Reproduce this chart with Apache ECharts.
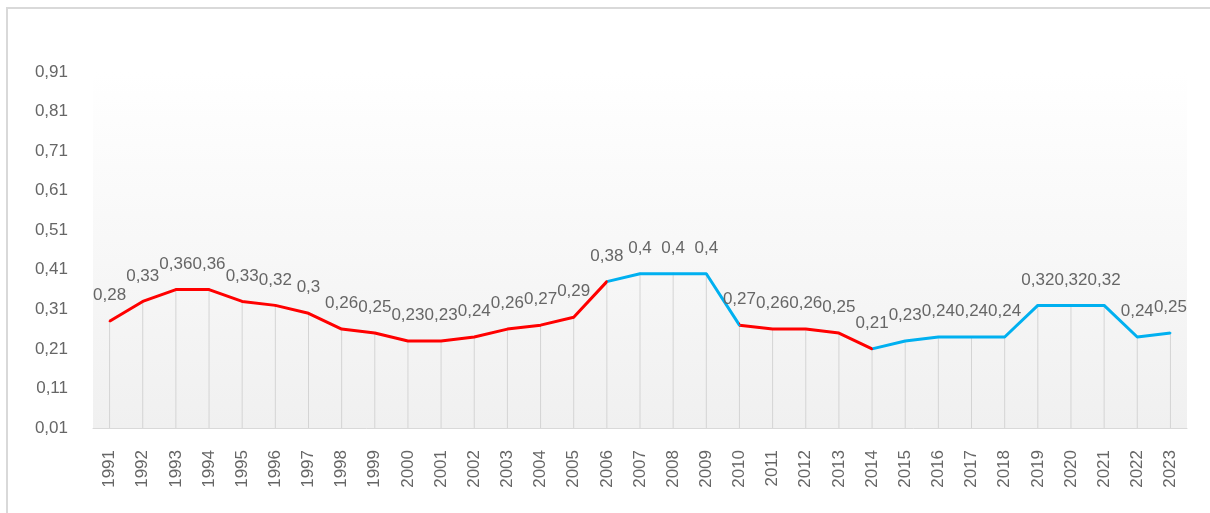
<!DOCTYPE html>
<html>
<head>
<meta charset="utf-8">
<script src="https://cdn.jsdelivr.net/npm/echarts@6/dist/echarts.min.js"></script>
<style>
  html, body { margin: 0; padding: 0; background: #fff; }
  #wrap { position: relative; width: 1210px; height: 513px; }
  #chart { width: 1210px; height: 513px; }
  #frame { position: absolute; left: 6px; top: 7px; right: 0; bottom: 0;
           border-left: 2px solid #d9d9d9; border-top: 2px solid #d9d9d9; pointer-events: none; }
</style>
</head>
<body>
<div id="wrap">
  <div id="chart"></div>
  <div id="frame"></div>
</div>
<script>
const years = ["1991","1992","1993","1994","1995","1996","1997","1998","1999","2000","2001",
  "2002","2003","2004","2005","2006","2007","2008","2009","2010","2011","2012","2013",
  "2014","2015","2016","2017","2018","2019","2020","2021","2022","2023"];
const values = [0.28,0.33,0.36,0.36,0.33,0.32,0.3,0.26,0.25,0.23,0.23,0.24,0.26,0.27,0.29,
  0.38,0.4,0.4,0.4,0.27,0.26,0.26,0.25,0.21,0.23,0.24,0.24,0.24,0.32,0.32,0.32,0.24,0.25];
// segments by index: red up to 2006, blue 2006-2010, red 2010-2014, blue after
const segments = [
  { lte: 15, color: "#ff0000" },
  { gt: 15, lte: 19, color: "#00b0f0" },
  { gt: 19, lte: 23, color: "#ff0000" },
  { gt: 23, color: "#00b0f0" }
];

const fmt = v => String(+v.toFixed(2)).replace(".", ",");
const font = "Liberation Sans";

const chart = echarts.init(document.getElementById("chart"));
chart.setOption({
  animation: false,
  grid: {
    left: 93, right: 23, top: 72, bottom: 85,
    show: true, borderWidth: 0,
    backgroundColor: new echarts.graphic.LinearGradient(0, 0, 0, 1, [
      { offset: 0, color: "#ffffff" },
      { offset: 1, color: "#f0f0f0" }
    ])
  },
  xAxis: {
    type: "category",
    data: years,
    axisLine: { lineStyle: { color: "#d9d9d9", width: 1 } },
    axisTick: { show: false },
    axisLabel: { rotate: 90, margin: 22, color: "#666", fontSize: 17, fontFamily: font }
  },
  yAxis: {
    type: "value",
    min: 0.01, max: 0.91, interval: 0.1,
    axisLine: { show: false },
    axisTick: { show: false },
    splitLine: { show: false },
    axisLabel: { margin: 25, color: "#666", fontSize: 17, fontFamily: font, formatter: fmt }
  },
  visualMap: {
    show: false,
    seriesIndex: 1,
    dimension: 0,
    pieces: segments
  },
  series: [
    {
      type: "bar",
      data: values,
      barWidth: 1,
      silent: true,
      itemStyle: { color: "#d4d4d4" },
      z: 1
    },
    {
      type: "line",
      data: values,
      symbol: "circle",
      symbolSize: 2,
      lineStyle: { width: 3 },
      z: 3,
      label: {
        show: true,
        position: "top",
        distance: 16,
        color: "#666",
        fontSize: 17,
        fontFamily: font,
        formatter: p => fmt(p.value)
      }
    }
  ]
});
</script>
</body>
</html>
